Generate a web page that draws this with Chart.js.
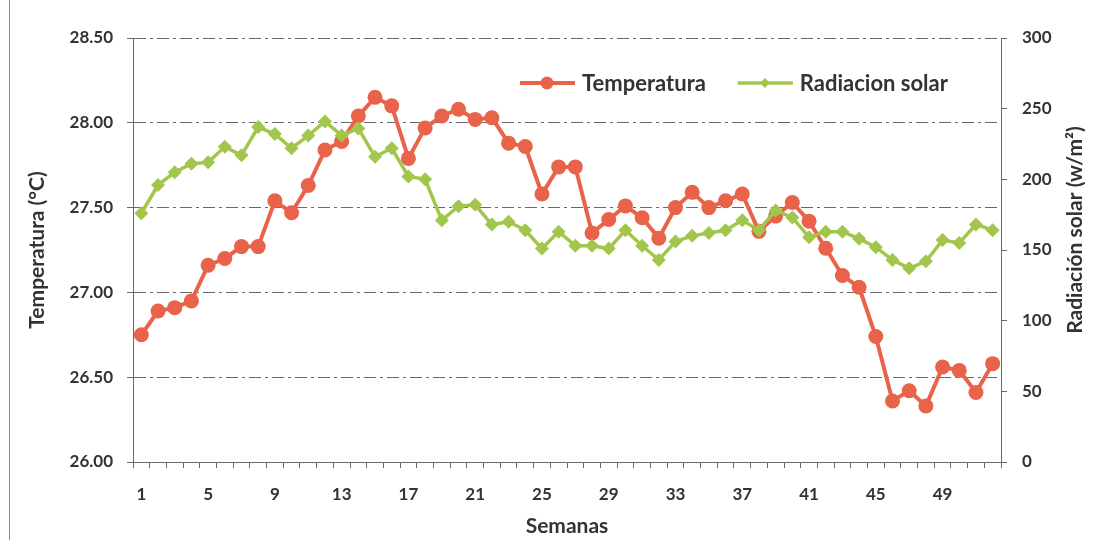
<!DOCTYPE html>
<html>
<head>
<meta charset="utf-8">
<script src="https://cdn.jsdelivr.net/npm/chart.js@4.4.0/dist/chart.umd.min.js"></script>
<style>
  html, body { margin: 0; padding: 0; background: #fff; }
  #wrap { position: relative; width: 1097px; height: 540px; }
  #frame { position: absolute; left: 9px; top: 0; width: 1px; height: 540px; background: #8a8a8a; }
</style>
</head>
<body>
<div id="wrap">
  <canvas id="myChart" width="1097" height="540"></canvas>
  <div id="frame"></div>
</div>
<script>
const weeks = [1, 2, 3, 4, 5, 6, 7, 8, 9, 10, 11, 12, 13, 14, 15, 16, 17, 18, 19, 20, 21, 22, 23, 24, 25, 26,
  27, 28, 29, 30, 31, 32, 33, 34, 35, 36, 37, 38, 39, 40, 41, 42, 43, 44, 45, 46, 47, 48, 49, 50, 51, 52];

const temperatura = [26.75, 26.89, 26.91, 26.95, 27.16, 27.20, 27.27, 27.27, 27.54, 27.47,
  27.63, 27.84, 27.89, 28.04, 28.15, 28.10, 27.79, 27.97, 28.04, 28.08,
  28.02, 28.03, 27.88, 27.86, 27.58, 27.74, 27.74, 27.35, 27.43, 27.51,
  27.44, 27.32, 27.50, 27.59, 27.50, 27.54, 27.58, 27.36, 27.45, 27.53,
  27.42, 27.26, 27.10, 27.03, 26.74, 26.36, 26.42, 26.33, 26.56, 26.54, 26.41, 26.58];

const radiacion = [176, 196, 205, 211, 212, 223, 217, 237, 232, 222,
  231, 241, 231, 236, 216, 222, 202, 200, 171, 181,
  182, 168, 170, 164, 151, 163, 153, 153, 151, 164,
  153, 143, 156, 160, 162, 164, 171, 164, 178, 173,
  159, 163, 163, 158, 152, 143, 137, 142, 157, 155, 168, 164];

const RED = '#e8634a';
const GREEN = '#a2c64c';
const TEXT = '#333333';
const GRID = '#6a6a6a';
const tickFont = { family: 'Lato', size: 17, weight: 'bold' };
const titleFont = { family: 'Lato', size: 21, weight: 'bold' };

// legend drawn inside the plot, line + marker like the original
const legendInside = {
  id: 'legendInside',
  afterDatasetsDraw(chart) {
    const { ctx, chartArea } = chart;
    let x = chartArea.left + 387;
    const y = chartArea.top + 45;
    ctx.save();
    ctx.font = 'bold 22px Lato';
    ctx.textBaseline = 'middle';
    chart.data.datasets.forEach((ds) => {
      ctx.strokeStyle = ds.borderColor;
      ctx.lineWidth = ds.borderWidth;
      ctx.beginPath();
      ctx.moveTo(x, y);
      ctx.lineTo(x + 55, y);
      ctx.stroke();
      ctx.fillStyle = ds.borderColor;
      ctx.beginPath();
      if (ds.pointStyle === 'rectRot') {
        ctx.moveTo(x + 27, y - 5);
        ctx.lineTo(x + 32, y);
        ctx.lineTo(x + 27, y + 5);
        ctx.lineTo(x + 22, y);
        ctx.closePath();
      } else {
        ctx.arc(x + 27, y, 6.5, 0, Math.PI * 2);
      }
      ctx.fill();
      ctx.fillStyle = TEXT;
      ctx.fillText(ds.label, x + 62, y + 1);
      x += 62 + ctx.measureText(ds.label).width + 32;
    });
    ctx.restore();
  },
};

// right axis title reads bottom-to-top in the original, chart.js turns it the other way
const rightTitle = {
  id: 'rightTitle',
  afterDraw(chart) {
    const { ctx, chartArea } = chart;
    ctx.save();
    ctx.translate(chart.width - 22, (chartArea.top + chartArea.bottom) / 2 - 20);
    ctx.rotate(-Math.PI / 2);
    ctx.font = 'bold 21px Lato';
    ctx.fillStyle = TEXT;
    ctx.textAlign = 'center';
    ctx.textBaseline = 'middle';
    ctx.fillText('Radiación solar (w/m²)', 0, 0);
    ctx.restore();
  },
};

const ctx = document.getElementById('myChart').getContext('2d');
const myChart = new Chart(ctx, {
  type: 'line',
  data: {
    labels: weeks,
    datasets: [{
      label: 'Temperatura',
      data: temperatura,
      yAxisID: 'y',
      borderColor: RED,
      backgroundColor: RED,
      borderWidth: 4,
      pointStyle: 'circle',
      pointRadius: 7.5,
      pointBorderWidth: 0,
      tension: 0,
      order: 2,
    }, {
      label: 'Radiacion solar',
      data: radiacion,
      yAxisID: 'y1',
      borderColor: GREEN,
      backgroundColor: GREEN,
      borderWidth: 3.5,
      pointStyle: 'rectRot',
      pointRadius: 7,
      pointBorderWidth: 0,
      tension: 0,
      order: 1,
    }],
  },
  options: {
    responsive: false,
    animation: false,
    devicePixelRatio: 1,
    layout: { padding: { top: 38, left: 0, right: 0, bottom: 0 } },
    plugins: {
      legend: { display: false },
      tooltip: { enabled: false },
    },
    scales: {
      x: {
        type: 'category',
        offset: true,
        grid: { offset: true, drawOnChartArea: false, drawTicks: true, tickLength: 6, tickColor: GRID },
        border: { display: true, color: GRID },
        ticks: {
          autoSkip: false,
          maxRotation: 0,
          padding: 16,
          color: TEXT,
          font: tickFont,
          callback: (val, idx) => (idx % 4 === 0 ? weeks[idx] : ''),
        },
        title: { display: true, text: 'Semanas', color: TEXT, font: titleFont, padding: { top: 0, bottom: 1 } },
        afterFit: (scale) => { scale.height = 78; },
      },
      y: {
        position: 'left',
        min: 26,
        max: 28.5,
        grid: { color: GRID, lineWidth: 1, drawTicks: true, tickLength: 6, tickColor: GRID },
        border: { display: true, color: GRID, dash: [12, 4, 3, 4] },
        ticks: {
          stepSize: 0.5,
          padding: 14,
          color: TEXT,
          font: tickFont,
          callback: (v) => v.toFixed(2),
        },
        title: { display: true, text: 'Temperatura (°C)', color: TEXT, font: titleFont, padding: { top: 25, bottom: 0 } },
        afterFit: (scale) => { scale.width = 133; },
      },
      y1: {
        position: 'right',
        min: 0,
        max: 300,
        grid: { drawOnChartArea: false, drawTicks: true, tickLength: 6, tickColor: GRID },
        border: { display: true, color: GRID },
        ticks: {
          stepSize: 50,
          padding: 15,
          color: TEXT,
          font: tickFont,
        },
        title: { display: false },
        afterFit: (scale) => { scale.width = 96; },
      },
    },
  },
  plugins: [legendInside, rightTitle],
});
</script>
</body>
</html>
